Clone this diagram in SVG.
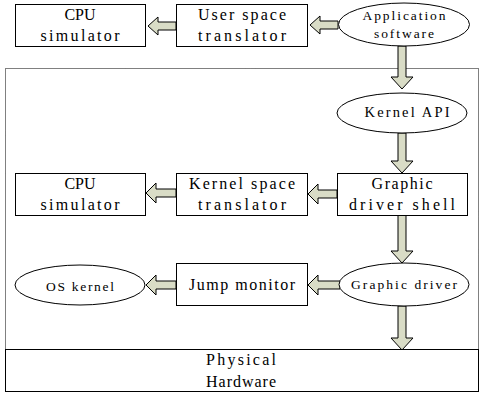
<svg xmlns="http://www.w3.org/2000/svg" width="480" height="393" viewBox="0 0 480 393">
<style>
.box{fill:#fff;stroke:#000;stroke-width:1}
.ell{fill:#fff;stroke:#000;stroke-width:1}
.t{font-family:"Liberation Serif",serif;font-size:16px;fill:#000;text-anchor:middle}
.s{font-family:"Liberation Serif",serif;font-size:13.5px;fill:#000;text-anchor:middle}
.arr{fill:#d9dcc6;stroke:#000;stroke-width:1;stroke-linejoin:miter}
.dot{fill:none;stroke:#000;stroke-width:1;stroke-dasharray:1 1}
</style>
<rect width="480" height="393" fill="#fff"/>
<rect class="dot" x="5.5" y="68.5" width="473" height="281"/>
<g id="connectors">
<path class="arr" d="M148,26 L158,17 L158,22 L176,22 L176,30 L158,30 L158,35 Z"/>
<path class="arr" d="M310,25 L320,16 L320,21 L338,21 L338,29 L320,29 L320,34 Z"/>
<path class="arr" d="M402,89 L391,77 L398,77 L398,46 L406,46 L406,77 L413,77 Z"/>
<path class="arr" d="M402,173 L391,161 L398,161 L398,133 L406,133 L406,161 L413,161 Z"/>
<path class="arr" d="M308,194 L318,184 L318,190 L337,190 L337,198 L318,198 L318,204 Z"/>
<path class="arr" d="M146,193 L156,183 L156,189 L176,189 L176,197 L156,197 L156,203 Z"/>
<path class="arr" d="M402,263 L391,251 L398,251 L398,215 L406,215 L406,251 L413,251 Z"/>
<path class="arr" d="M308,285 L318,275 L318,281 L340,281 L340,289 L318,289 L318,295 Z"/>
<path class="arr" d="M146,285 L156,275 L156,281 L176,281 L176,289 L156,289 L156,295 Z"/>
<path class="arr" d="M402,350 L391,338 L398,338 L398,306 L406,306 L406,338 L413,338 Z"/>
</g>
<g id="cpu1"><rect class="box" x="15.5" y="4.5" width="130" height="42"/><text class="t" x="80" y="20">CPU</text><text class="t" x="80" y="41" textLength="79" lengthAdjust="spacing">simulator</text></g>
<g id="user"><rect class="box" x="176.5" y="4.5" width="131" height="42"/><text class="t" x="242" y="20" textLength="88" lengthAdjust="spacing">User space</text><text class="t" x="242" y="41" textLength="88" lengthAdjust="spacing">translator</text></g>
<g id="app"><ellipse class="ell" cx="404" cy="24.5" rx="65.5" ry="21.5"/><text class="s" x="404" y="20" textLength="83" lengthAdjust="spacing">Application</text><text class="s" x="404" y="38" textLength="60" lengthAdjust="spacing">software</text></g>
<g id="kapi"><ellipse class="ell" cx="402" cy="113" rx="65" ry="20"/><text class="s" x="407" y="117" style="font-size:14.5px" textLength="85" lengthAdjust="spacing">Kernel API</text></g>
<g id="cpu2"><rect class="box" x="15.5" y="173.5" width="130" height="42"/><text class="t" x="80" y="189">CPU</text><text class="t" x="80" y="210" textLength="79" lengthAdjust="spacing">simulator</text></g>
<g id="kst"><rect class="box" x="176.5" y="173.5" width="131" height="42"/><text class="t" x="242" y="189" textLength="106" lengthAdjust="spacing">Kernel space</text><text class="t" x="242" y="210" textLength="88" lengthAdjust="spacing">translator</text></g>
<g id="gds"><rect class="box" x="337.5" y="173.5" width="130" height="42"/><text class="t" x="402" y="189" textLength="61" lengthAdjust="spacing">Graphic</text><text class="t" x="402" y="210" textLength="106" lengthAdjust="spacing">driver shell</text></g>
<g id="os"><ellipse class="ell" cx="80" cy="285" rx="65" ry="20"/><text class="s" x="80" y="291" textLength="68" lengthAdjust="spacing">OS kernel</text></g>
<g id="jump"><rect class="box" x="176.5" y="263.5" width="131" height="42"/><text class="t" x="242" y="290" textLength="106" lengthAdjust="spacing">Jump monitor</text></g>
<g id="gd"><ellipse class="ell" cx="404" cy="284.5" rx="65" ry="21.5"/><text class="s" x="404" y="289" textLength="106" lengthAdjust="spacing">Graphic driver</text></g>
<g id="hw"><rect class="box" x="5.5" y="349.5" width="473" height="42"/><text class="t" x="241" y="365" textLength="70" lengthAdjust="spacing">Physical</text><text class="t" x="241" y="387" textLength="70" lengthAdjust="spacing">Hardware</text></g>
</svg>
